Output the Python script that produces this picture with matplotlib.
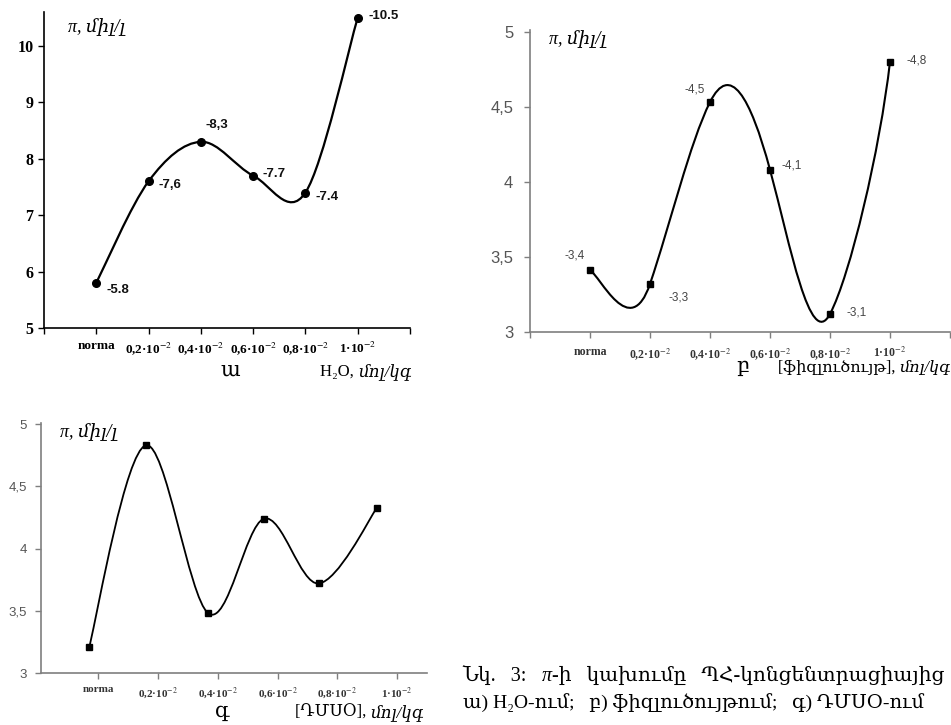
import numpy as np
import matplotlib
matplotlib.use('Agg')
import matplotlib.pyplot as plt
from matplotlib.path import Path
from matplotlib.patches import PathPatch

W, H = 951, 725          # output size in pixels
plt.rcParams['mathtext.fontset'] = 'stix'

SERIF = ['Liberation Serif', 'DejaVu Serif']
SANS = ['Liberation Sans', 'DejaVu Sans']

# x categories (same for all three panels)
cats = ['norma', '0,2·10$^{-2}$', '0,4·10$^{-2}$', '0,6·10$^{-2}$',
        '0,8·10$^{-2}$', '1·10$^{-2}$']
cat_pos = [0, 1, 2, 3, 4, 5]

# panel ա : H2O
h2o_vals = [5.8, 7.6, 8.3, 7.7, 7.4, 10.5]
h2o_text = ['-5.8', '-7,6', '-8,3', '-7.7', '-7.4', '-10.5']
h2o_ticks = [5, 6, 7, 8, 9, 10]

# panel բ : saline
sal_vals = [3.41, 3.32, 4.53, 4.08, 3.12, 4.80]
sal_text = ['-3,4', '-3,3', '-4,5', '-4,1', '-3,1', '-4,8']
sal_ticks = [3, 3.5, 4, 4.5, 5]
sal_ticklabels = ['3', '3,5', '4', '4,5', '5']

# panel գ : DMSO (points sit a bit off the category ticks in the source)
dmso_x = [-0.15, 0.79, 1.84, 2.77, 3.69, 4.66]
dmso_vals = [3.21, 4.83, 3.48, 4.24, 3.72, 4.33]

ylabel = 'π, միլ/լ'


def smooth_path(x, y, ky=1.0):
    # excel-like smoothed line: cubic bezier through every point
    # ky stretches the vertical handle length (excel smooths in pixel space)
    pts = np.column_stack([x, y]).astype(float)
    scale = np.array([1.0, ky]) / 6
    n = len(pts)
    verts = [pts[0]]
    codes = [Path.MOVETO]
    for i in range(n - 1):
        p0 = pts[max(i - 1, 0)]
        p3 = pts[min(i + 2, n - 1)]
        c1 = pts[i] + (pts[i + 1] - p0) * scale
        c2 = pts[i + 1] - (p3 - pts[i]) * scale
        verts += [c1, c2, pts[i + 1]]
        codes += [Path.CURVE4] * 3
    return Path(verts, codes)


def make_axes(fig, left, right, top, bottom):
    return fig.add_axes([left / W, 1 - bottom / H, (right - left) / W, (bottom - top) / H])


def style(ax, spine_col):
    for s in ['top', 'right']:
        ax.spines[s].set_visible(False)
    for s in ['left', 'bottom']:
        ax.spines[s].set_color(spine_col)
        ax.spines[s].set_linewidth(1.2)
    ax.tick_params(colors=spine_col, length=4, width=1.0, direction='out')
    ax.patch.set_alpha(0)


fig = plt.figure(figsize=(W / 100, H / 100), dpi=100)
fig.patch.set_facecolor('white')

# ---------- ա ----------
ax = make_axes(fig, 44, 410, 12, 328)
style(ax, 'black')
ax.set_xlim(-1, 6)
ax.set_ylim(5, 10.6)
ax.set_xticks(range(-1, 7))
ax.set_xticklabels([''] + cats + [''], fontfamily=SERIF, fontweight='bold', fontsize=9.5)
ax.set_yticks(h2o_ticks)
ax.set_yticklabels([str(t) for t in h2o_ticks], fontfamily=SERIF, fontweight='bold', fontsize=11.5)
ax.tick_params(axis='x', pad=5)
ax.add_patch(PathPatch(smooth_path(cat_pos, h2o_vals), fill=False, lw=1.6, ec='black'))
ax.plot(cat_pos, h2o_vals, 'o', color='black', ms=5.5)
offs = [(7, -5), (7, -3), (3, 12), (7, 1), (7, -3), (8, 1)]
for x, y, t, o in zip(cat_pos, h2o_vals, h2o_text, offs):
    ax.annotate(t, (x, y), xytext=o, textcoords='offset points', ha='left', va='center',
                fontfamily=SANS, fontweight='bold', fontsize=9.5, color='#111111')
ax.text(0.065, 0.98, ylabel, transform=ax.transAxes, ha='left', va='top',
        fontfamily=SERIF, style='italic', fontsize=13,
        bbox=dict(fc='white', ec='none', pad=2))

# ---------- բ ----------
ax = make_axes(fig, 530, 950, 30, 332)
style(ax, '#7f7f7f')
ax.set_xlim(-1, 6)
ax.set_ylim(3, 5.01)
ax.set_xticks(range(-1, 7))
ax.set_xticklabels([''] + cats + [''], fontfamily=SERIF, fontweight='bold', fontsize=8.5, color='#333333')
ax.set_yticks(sal_ticks)
ax.set_yticklabels(sal_ticklabels, fontfamily=SANS, fontsize=12, color='#555555')
ax.tick_params(axis='x', pad=6)
ax.tick_params(axis='y', pad=8)
ax.add_patch(PathPatch(smooth_path(cat_pos, sal_vals, ky=2.1), fill=False, lw=1.5, ec='black'))
ax.plot(cat_pos, sal_vals, 's', color='black', ms=4.5)
offs = [(-11, 11), (13, -10), (-11, 9), (8, 3), (12, 1), (12, 1)]
has = ['center', 'left', 'center', 'left', 'left', 'left']
for x, y, t, o, ha in zip(cat_pos, sal_vals, sal_text, offs, has):
    ax.annotate(t, (x, y), xytext=o, textcoords='offset points', ha=ha, va='center',
                fontfamily=SANS, fontsize=8.5, color='#444444')
ax.text(0.045, 1.0, ylabel, transform=ax.transAxes, ha='left', va='top',
        fontfamily=SERIF, style='italic', fontsize=13,
        bbox=dict(fc='white', ec='none', pad=2))

# ---------- գ ----------
ax = make_axes(fig, 41, 427, 423, 673)
style(ax, '#7f7f7f')
ax.set_xlim(-0.96, 5.5)
ax.set_ylim(3, 5.01)
ax.set_xticks(cat_pos)
ax.set_xticklabels(cats, fontfamily=SERIF, fontweight='bold', fontsize=8, color='#333333')
ax.set_yticks(sal_ticks)
ax.set_yticklabels(sal_ticklabels, fontfamily=SANS, fontsize=9.5, color='#555555')
ax.tick_params(axis='x', pad=5)
ax.tick_params(axis='y', pad=6)
ax.add_patch(PathPatch(smooth_path(dmso_x, dmso_vals, ky=1.2), fill=False, lw=1.3, ec='black'))
ax.plot(dmso_x, dmso_vals, 's', color='black', ms=3.8)
ax.text(0.05, 1.0, ylabel, transform=ax.transAxes, ha='left', va='top',
        fontfamily=SERIF, style='italic', fontsize=13,
        bbox=dict(fc='white', ec='none', pad=2))

# ---------- sub captions, on an invisible full-figure axes ----------
axf = fig.add_axes([0, 0, 1, 1])
axf.set_xlim(0, W)
axf.set_ylim(H, 0)
axf.axis('off')


def chain(x, y, parts, size, align='left'):
    # lay out (text, italic) pieces one after the other
    if align == 'right':
        parts = parts[::-1]
    prev = None
    for s, it in parts:
        kw = dict(fontfamily=SERIF, fontsize=size, style='italic' if it else 'normal')
        if prev is None:
            prev = axf.text(x, y, s, ha=align, va='baseline', **kw)
        else:
            xy = (1, 0) if align == 'left' else (0, 0)
            prev = axf.annotate(s, xy=xy, xycoords=prev, ha=align, va='bottom', **kw)


axf.text(230, 376, 'ա', fontfamily=SERIF, fontsize=15, ha='center', va='baseline')
chain(320, 376, [('H₂O, ', False), ('մոլ/կգ', True)], 12)
axf.text(743, 372, 'բ', fontfamily=SERIF, fontsize=15, ha='center', va='baseline')
chain(950, 372, [('[ֆիզլուծույթ], ', False), ('մոլ/կգ', True)], 11.5, align='right')
axf.text(222, 717, 'գ', fontfamily=SERIF, fontsize=15, ha='center', va='baseline')
chain(295, 717, [('[ԴՄՍՕ], ', False), ('մոլ/կգ', True)], 12)

# figure caption (runs off the right edge as in the source)
chain(463, 681, [('Նկ.   3:   ', False), ('π', True),
                 ('-ի   կախումը   ՊՀ-կոնցենտրացիայից', False)], 14.5)
axf.text(463, 708, 'ա) H₂O-ում;   բ) ֆիզլուծույթում;   գ) ԴՄՍՕ-ում',
         fontfamily=SERIF, fontsize=14, ha='left', va='baseline')

fig.savefig('out.png', dpi=100)
